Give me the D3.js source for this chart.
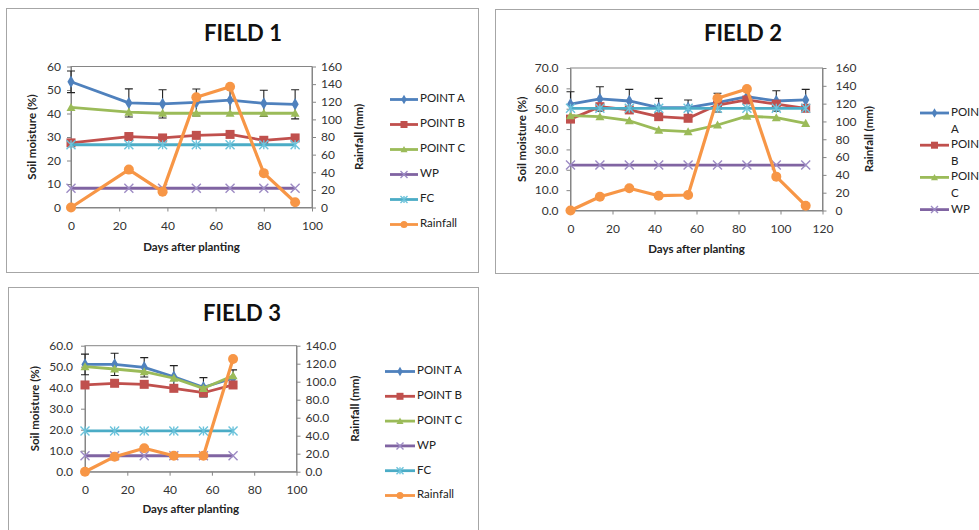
<!DOCTYPE html>
<html lang="en">
<head>
<meta charset="utf-8">
<title>Soil moisture and rainfall</title>
<script src="https://d3js.org/d3.v7.min.js"></script>
<style>
body { margin: 0; background: #fff; }
svg text { font-family: Lato, "Open Sans", sans-serif; fill: #222; }
.tick line, .domain { stroke: #868686; }
</style>
</head>
<body>
<svg id="paper" width="979" height="530"></svg>
<script>
// series names
var seriesNames = ["POINT A", "POINT B", "POINT C", "WP", "FC", "Rainfall"];

// field 1
var f1Days = [0, 24, 38, 52, 66, 80, 93];
var f1PointA = [53.5, 44.5, 44.1, 44.7, 45.7, 44.3, 43.9];
var f1ErrA = [4.6, 6.0, 6.0, 5.7, 5.5, 5.6, 6.2];
var f1PointB = [27.5, 30.2, 29.6, 30.7, 31.1, 28.6, 29.6];
var f1PointC = [42.6, 40.6, 40.1, 40.1, 40.1, 40.1, 40.1];
var f1WP = [8.2, 8.2, 8.2, 8.2, 8.2, 8.2, 8.2];
var f1FC = [26.7, 26.7, 26.7, 26.7, 26.7, 26.7, 26.7];
var f1Rain = [0, 43, 18, 125, 137, 39, 6];

// field 2
var f2Days = [0, 14, 28, 42, 56, 70, 84, 98, 112];
var f2PointA = [52.2, 54.8, 53.8, 50.5, 50.5, 53.0, 55.9, 53.8, 54.3];
var f2ErrA = [6.1, 6.0, 5.7, 4.6, 3.8, 4.6, 3.0, 5.0, 5.2];
var f2PointB = [44.9, 51.0, 49.4, 46.1, 45.3, 51.8, 54.3, 52.2, 50.2];
var f2PointC = [46.6, 46.1, 44.1, 39.5, 38.7, 42.0, 46.4, 45.6, 42.8];
var f2WP = [22.3, 22.3, 22.3, 22.3, 22.3, 22.3, 22.3, 22.3, 22.3];
var f2FC = [50.2, 50.2, 50.2, 50.2, 50.2, 50.2, 50.2, 50.2, 50.2];
var f2Rain = [0, 15.5, 25, 16.6, 17.4, 126, 136.5, 38, 5.4];

// field 3
var f3Days = [0, 14, 28, 42, 56, 70];
var f3PointA = [51.1, 51.1, 49.7, 45.2, 40.2, 44.5];
var f3ErrA = [4.9, 5.3, 4.6, 5.3, 4.6, 4.0];
var f3PointB = [41.3, 42.1, 41.6, 39.7, 37.6, 41.3];
var f3PointC = [50.0, 48.9, 47.6, 44.5, 39.7, 45.7];
var f3WP = [7.6, 7.6, 7.6, 7.6, 7.6, 7.6];
var f3FC = [19.4, 19.4, 19.4, 19.4, 19.4, 19.4];
var f3Rain = [0, 16.7, 26, 17.8, 17.8, 125.2];

var colors = ["#4F81BD", "#C0504D", "#9BBB59", "#8064A2", "#4BACC6", "#F79646"];
var markerColors = ["#4F81BD", "#C0504D", "#9BBB59", "#9D8BC4", "#6CC3DB", "#F79646"];

var svg = d3.select("#paper");

function marker(g, kind, x, y, s, col) {
    var r = s / 2;
    if (kind === "diamond") {
        g.append("path").attr("d", d3.symbol(d3.symbolDiamond, s * s * 0.55)())
            .attr("transform", "translate(" + x + "," + y + ")").attr("fill", col);
    } else if (kind === "square") {
        g.append("rect").attr("x", x - r).attr("y", y - r).attr("width", s).attr("height", s).attr("fill", col);
    } else if (kind === "triangle") {
        g.append("path").attr("d", "M" + x + "," + (y - r) + "L" + (x + r) + "," + (y + r * 0.8) + "L" + (x - r) + "," + (y + r * 0.8) + "Z")
            .attr("fill", col);
    } else if (kind === "x") {
        g.append("path").attr("d", "M" + (x - r) + "," + (y - r) + "L" + (x + r) + "," + (y + r) + "M" + (x - r) + "," + (y + r) + "L" + (x + r) + "," + (y - r))
            .attr("stroke", col).attr("stroke-width", 1.4).attr("fill", "none");
    } else if (kind === "star") {
        g.append("path").attr("d", "M" + (x - r) + "," + (y - r) + "L" + (x + r) + "," + (y + r) + "M" + (x - r) + "," + (y + r) + "L" + (x + r) + "," + (y - r) + "M" + x + "," + (y - r) + "L" + x + "," + (y + r))
            .attr("stroke", col).attr("stroke-width", 1.4).attr("fill", "none");
    } else {
        g.append("circle").attr("cx", x).attr("cy", y).attr("r", r).attr("fill", col);
    }
}

var kinds = ["diamond", "square", "triangle", "x", "star", "circle"];

function drawField(c) {
    var g = svg.append("g");

    // outer frame
    g.append("rect").attr("x", c.box[0]).attr("y", c.box[1])
        .attr("width", c.box[2] - c.box[0]).attr("height", c.box[3] - c.box[1])
        .attr("fill", "none").attr("stroke", "#a6a6a6").attr("stroke-width", 1);

    g.append("text").attr("x", c.titleX).attr("y", c.titleY)
        .attr("text-anchor", "middle").attr("dominant-baseline", "middle")
        .style("font-size", "22px").style("font-weight", "bold").style("fill", "#111")
        .text(c.title);

    var x = d3.scaleLinear().domain(c.xDomain).range([c.x0, c.x1]);
    var yL = d3.scaleLinear().domain(c.yLeft).range([c.yBot, c.yTop]);
    var yR = d3.scaleLinear().domain(c.yRight).range([c.yBot, c.yTop]);

    g.append("rect").attr("x", c.x0).attr("y", c.yTop)
        .attr("width", c.x1 - c.x0).attr("height", c.yBot - c.yTop)
        .attr("fill", "#fff").attr("stroke", "#868686");

    var ax = g.append("g").attr("transform", "translate(0," + c.yBot + ")")
        .call(d3.axisBottom(x).tickValues(c.xTicks).tickSize(4).tickSizeOuter(0).tickPadding(10));
    var al = g.append("g").attr("transform", "translate(" + c.x0 + ",0)")
        .call(d3.axisLeft(yL).tickValues(c.leftTicks).tickFormat(c.leftFmt).tickSize(4).tickSizeOuter(0).tickPadding(c.leftPad));
    var ar = g.append("g").attr("transform", "translate(" + c.x1 + ",0)")
        .call(d3.axisRight(yR).tickValues(c.rightTicks).tickFormat(c.rightFmt).tickSize(4).tickSizeOuter(0).tickPadding(c.rightPad));
    [ax, al, ar].forEach(function (a) {
        a.selectAll("text").style("font-size", "12px").style("fill", "#333")
            .style("font-family", "Lato, 'Open Sans', sans-serif");
    });

    g.append("text").attr("transform", "translate(" + c.yLabelX + "," + ((c.yTop + c.yBot) / 2) + ") rotate(-90)")
        .attr("text-anchor", "middle").attr("dominant-baseline", "middle")
        .style("font-size", "11.5px").style("font-weight", "bold").text("Soil moisture (%)");
    g.append("text").attr("transform", "translate(" + c.rLabelX + "," + ((c.yTop + c.yBot) / 2) + ") rotate(-90)")
        .attr("text-anchor", "middle").attr("dominant-baseline", "middle")
        .style("font-size", "11.5px").style("font-weight", "bold").text("Rainfall  (mm)");
    g.append("text").attr("x", (c.x0 + c.x1) / 2).attr("y", c.xLabelY)
        .attr("text-anchor", "middle").attr("dominant-baseline", "middle")
        .style("font-size", "11.5px").style("font-weight", "bold").text("Days after planting");

    var series = [c.a, c.b, c.c, c.wp, c.fc, c.rain];
    series.forEach(function (vals, si) {
        var sy = si === 5 ? yR : yL;
        var line = d3.line().x(function (d, i) { return x(c.days[i]); }).y(function (d) { return sy(d); });
        var sg = g.append("g");
        sg.append("path").datum(vals).attr("d", line).attr("fill", "none")
            .attr("stroke", colors[si]).attr("stroke-width", si === 5 ? 3.2 : 2.8)
            .attr("stroke-linejoin", "round");
        if (si === 0) {
            vals.forEach(function (v, i) {
                var px = x(c.days[i]);
                var lo = yL(v - c.errA[i]), hi = yL(v + c.errA[i]);
                sg.append("path")
                    .attr("d", "M" + px + "," + lo + "V" + hi + "M" + (px - 4) + "," + hi + "H" + (px + 4) + "M" + (px - 4) + "," + lo + "H" + (px + 4))
                    .attr("stroke", "#222").attr("stroke-width", 1.1).attr("fill", "none");
            });
        }
        vals.forEach(function (v, i) {
            marker(sg, kinds[si], x(c.days[i]), sy(v), si === 5 ? 10 : 9, markerColors[si]);
        });
    });

    // legend
    var lg = g.append("g");
    c.legendItems.forEach(function (name, i) {
        var ly = c.legY + i * c.legStep;
        lg.append("line").attr("x1", c.legX0).attr("x2", c.legX1).attr("y1", ly).attr("y2", ly)
            .attr("stroke", colors[i]).attr("stroke-width", 2.8);
        marker(lg, kinds[i], (c.legX0 + c.legX1) / 2, ly, 7, markerColors[i]);
        var t = lg.append("text").attr("x", c.legX1 + 2).attr("y", ly)
            .attr("dominant-baseline", "middle").style("font-size", "11.5px").style("fill", "#222");
        if (c.legWrap && name.indexOf(" ") > 0) {
            var parts = name.split(" ");
            t.append("tspan").attr("x", c.legX1 + 2).attr("dy", 0).text(parts[0]);
            t.append("tspan").attr("x", c.legX1 + 2).attr("dy", 16.5).text(parts[1]);
        } else {
            t.text(name);
        }
    });
}

var intFmt = d3.format("d"), oneFmt = d3.format(".1f");

drawField({
    title: "FIELD 1", titleX: 243, titleY: 35, box: [6.5, 8.5, 478.5, 272.5],
    x0: 71, x1: 312, yTop: 66.5, yBot: 207.5,
    xDomain: [0, 100], xTicks: [0, 20, 40, 60, 80, 100],
    yLeft: [0, 60], leftTicks: [0, 10, 20, 30, 40, 50, 60], leftFmt: intFmt, leftPad: 6,
    yRight: [0, 160], rightTicks: [0, 20, 40, 60, 80, 100, 120, 140, 160], rightFmt: intFmt, rightPad: 5,
    yLabelX: 33, rLabelX: 360, xLabelY: 248,
    days: f1Days, a: f1PointA, errA: f1ErrA, b: f1PointB, c: f1PointC, wp: f1WP, fc: f1FC, rain: f1Rain,
    legendItems: seriesNames, legX0: 390, legX1: 418, legY: 99.5, legStep: 25, legWrap: false
});

drawField({
    title: "FIELD 2", titleX: 743, titleY: 35, box: [495.5, 9.5, 990, 273.5],
    x0: 570.5, x1: 822.5, yTop: 68, yBot: 210.5,
    xDomain: [0, 120], xTicks: [0, 20, 40, 60, 80, 100, 120],
    yLeft: [0, 70], leftTicks: [0, 10, 20, 30, 40, 50, 60, 70], leftFmt: oneFmt, leftPad: 8,
    yRight: [0, 160], rightTicks: [0, 20, 40, 60, 80, 100, 120, 140, 160], rightFmt: intFmt, rightPad: 9,
    yLabelX: 523, rLabelX: 870, xLabelY: 250,
    days: f2Days, a: f2PointA, errA: f2ErrA, b: f2PointB, c: f2PointC, wp: f2WP, fc: f2FC, rain: f2Rain,
    legendItems: seriesNames.slice(0, 4), legX0: 920, legX1: 949, legY: 113, legStep: 32.2, legWrap: true
});

drawField({
    title: "FIELD 3", titleX: 242, titleY: 315, box: [8.5, 287.5, 478.5, 540],
    x0: 85, x1: 296.5, yTop: 345.7, yBot: 471.7,
    xDomain: [0, 100], xTicks: [0, 20, 40, 60, 80, 100],
    yLeft: [0, 60], leftTicks: [0, 10, 20, 30, 40, 50, 60], leftFmt: oneFmt, leftPad: 8,
    yRight: [0, 140], rightTicks: [0, 20, 40, 60, 80, 100, 120, 140], rightFmt: oneFmt, rightPad: 5,
    yLabelX: 36.5, rLabelX: 356, xLabelY: 510.5,
    days: f3Days, a: f3PointA, errA: f3ErrA, b: f3PointB, c: f3PointC, wp: f3WP, fc: f3FC, rain: f3Rain,
    legendItems: seriesNames, legX0: 385, legX1: 415, legY: 371.5, legStep: 24.8, legWrap: false
});
</script>
</body>
</html>
